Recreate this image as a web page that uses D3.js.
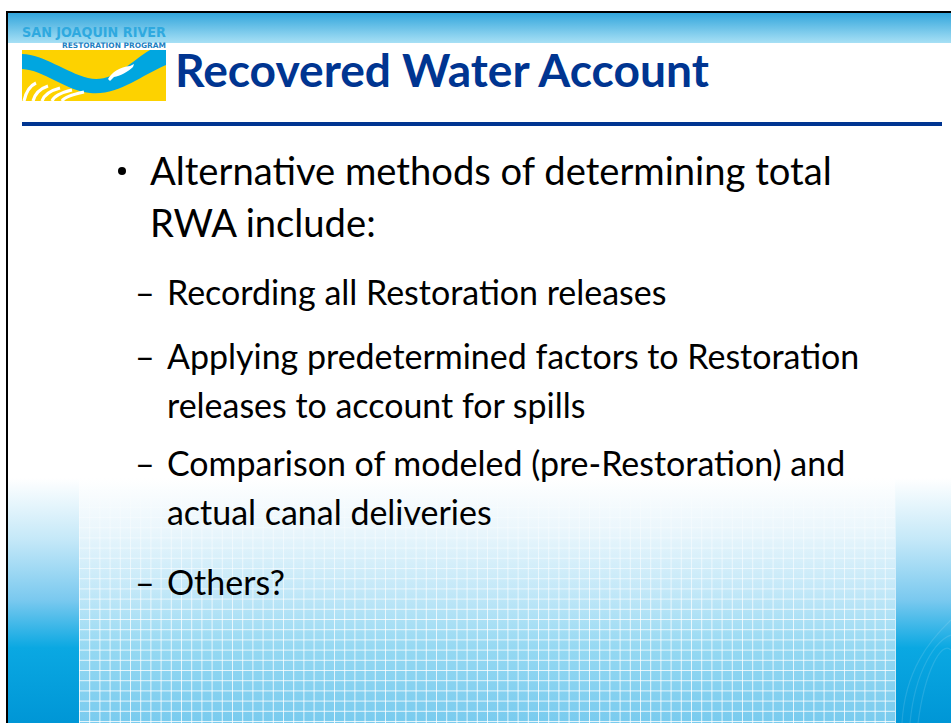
<!DOCTYPE html>
<html>
<head>
<meta charset="utf-8">
<script src="https://cdn.jsdelivr.net/npm/d3@7"></script>
<style>
  body { margin: 0; background: #fff; }
  svg { display: block; }
</style>
</head>
<body>
<div id="slide"></div>
<script>
// slide content
var titleText = "Recovered Water Account";
var logoLines = ["SAN JOAQUIN RIVER", "RESTORATION PROGRAM"];
var mainLines = ["Alternative methods of determining total", "RWA include:"];
var subItems = [
  ["Recording all Restoration releases"],
  ["Applying predetermined factors to Restoration", "releases to account for spills"],
  ["Comparison of modeled (pre-Restoration) and", "actual canal deliveries"],
  ["Others?"]
];

var W = 951, H = 723;
var font = "Lato, 'Open Sans', sans-serif";

var svg = d3.select("#slide")
  .append("svg")
    .attr("width", W)
    .attr("height", H);

var defs = svg.append("defs");

// vertical gradients in page coordinates: [y, colour, opacity]
function vgrad(id, stops) {
  var g = defs.append("linearGradient")
    .attr("id", id)
    .attr("gradientUnits", "userSpaceOnUse")
    .attr("x1", 0).attr("x2", 0).attr("y1", 0).attr("y2", H);
  g.selectAll("stop").data(stops).enter().append("stop")
    .attr("offset", function(d) { return d[0] / H; })
    .attr("stop-color", function(d) { return d[1]; })
    .attr("stop-opacity", function(d) { return d[2] == null ? 1 : d[2]; });
}
vgrad("mainBg", [[0, "#ffffff"], [478, "#ffffff"], [530, "#eaf6fc"], [590, "#c3e8f8"], [650, "#94d8f2"], [723, "#79cbee"]]);
vgrad("sideBg", [[0, "#ffffff"], [478, "#ffffff"], [540, "#c4e8f8"], [600, "#7ac9ef"], [648, "#0aa8e2"], [723, "#0096d6"]]);
vgrad("gridStroke", [[0, "#ffffff", 0], [478, "#ffffff", 0], [540, "#ffffff", 0.45], [620, "#ffffff", 0.75], [723, "#ffffff", 0.8]]);

var banner = defs.append("linearGradient")
  .attr("id", "banner").attr("x1", 0).attr("x2", 0).attr("y1", 0).attr("y2", 1);
banner.append("stop").attr("offset", 0).attr("stop-color", "#33a6dc");
banner.append("stop").attr("offset", 1).attr("stop-color", "#a7e0f5");

// slide frame
var frameLeft = 8, frameTop = 13;
var mainX0 = 79, mainX1 = 895;

svg.append("rect").attr("x", frameLeft).attr("y", frameTop).attr("width", W - frameLeft).attr("height", H - frameTop)
  .attr("fill", "url(#sideBg)");
svg.append("rect").attr("x", mainX0).attr("y", frameTop).attr("width", mainX1 - mainX0).attr("height", H - frameTop)
  .attr("fill", "url(#mainBg)");

// grid in the lower part of the slide
var step = 10.2;
var gx = d3.scaleLinear().domain([0, 1]).range([mainX0, mainX0 + step]);
var gridG = svg.append("g").attr("stroke", "url(#gridStroke)").attr("stroke-width", 1);
gridG.selectAll(".vl").data(d3.range(0, Math.floor((mainX1 - mainX0) / step) + 1)).enter()
  .append("line")
    .attr("x1", function(d) { return gx(d) + 0.5; })
    .attr("x2", function(d) { return gx(d) + 0.5; })
    .attr("y1", 470).attr("y2", H);
gridG.selectAll(".hl").data(d3.range(0, 25)).enter()
  .append("line")
    .attr("x1", mainX0).attr("x2", mainX1)
    .attr("y1", function(d) { return 721.5 - d * step; })
    .attr("y2", function(d) { return 721.5 - d * step; });

// faint swooshes on the right panel
svg.append("g").attr("fill", "none").attr("stroke", "#ffffff").attr("stroke-opacity", 0.12)
  .selectAll("path").data([0, 1, 2]).enter().append("path")
    .attr("d", function(d) { return "M" + (902 + d * 8) + ",723 C" + (905 + d * 10) + ",670 " + (930 + d * 6) + ",640 951," + (620 + d * 15); })
    .attr("stroke-width", 1.2);

// top banner
svg.append("rect").attr("x", frameLeft).attr("y", frameTop).attr("width", W - frameLeft).attr("height", 43 - frameTop)
  .attr("fill", "url(#banner)");

// frame border (top and left)
svg.append("rect").attr("x", 6).attr("y", 11).attr("width", W - 6).attr("height", 2).attr("fill", "#000");
svg.append("rect").attr("x", 6).attr("y", 11).attr("width", 2).attr("height", H - 11).attr("fill", "#000");

// logo
var logo = svg.append("g");
logo.append("text")
  .attr("x", 22).attr("y", 37)
  .attr("textLength", 144).attr("lengthAdjust", "spacingAndGlyphs")
  .style("font-family", "'Liberation Sans Narrow', 'DejaVu Sans Condensed', sans-serif")
  .style("font-weight", "bold").style("font-size", "14px")
  .style("fill", "#2fa9df")
  .text(logoLines[0]);
logo.append("text")
  .attr("x", 62).attr("y", 48)
  .attr("textLength", 104).attr("lengthAdjust", "spacingAndGlyphs")
  .style("font-family", "'Liberation Sans Narrow', 'DejaVu Sans Condensed', sans-serif")
  .style("font-weight", "bold").style("font-size", "7.5px")
  .style("fill", "#1d7fc2")
  .text(logoLines[1]);
logo.append("rect").attr("x", 22).attr("y", 50).attr("width", 144).attr("height", 51).attr("fill", "#fdd200");
logo.append("path")
  .attr("d", "M22,54 C45,55 65,72 88,78 C112,84 130,62 150,50 L166,50 L166,65 C140,76 118,96 90,93 C64,90 44,70 22,69 Z")
  .attr("fill", "#00a6e0");
// field furrows
logo.append("g").attr("stroke", "#ffffff").attr("stroke-width", 3.2).attr("fill", "none").attr("stroke-linecap", "butt")
  .selectAll("path").data([[24, 22, 83], [33, 34, 86], [42, 46, 88], [52, 58, 90], [62, 70, 92]]).enter()
  .append("path")
    .attr("d", function(d) { return "M" + d[0] + ",101 Q" + (d[0] + 3) + "," + (d[2] + 4) + " " + (d[1] + 14) + "," + d[2]; });
// fish
logo.append("path")
  .attr("d", "M108,79 C112,72 120,67 130,66 L134,64 L133,67 C128,72 120,76 114,77 L110,81 Z")
  .attr("fill", "#ffffff");

// title
var title = svg.append("text")
  .attr("x", 175).attr("y", 87)
  .style("font-family", font).style("font-weight", "bold").style("font-size", "40px")
  .style("fill", "#003591")
  .text(titleText);
var tl = title.node().getComputedTextLength();
title.style("font-size", (40 * 534 / tl) + "px");

// rule under the title
svg.append("rect").attr("x", 22).attr("y", 122).attr("width", 920).attr("height", 4).attr("fill", "#003591");

// fit a font size so a line reaches the target width
function fitSize(text, target, base) {
  var t = svg.append("text").style("font-family", font).style("font-size", base + "px").text(text);
  var w = t.node().getComputedTextLength();
  t.remove();
  return base * target / w;
}

// main bullet
var mainSize = fitSize(mainLines[0], 682, 40);
svg.append("circle").attr("cx", 122).attr("cy", 171).attr("r", 4).attr("fill", "#000");
svg.selectAll(".main").data(mainLines).enter().append("text")
  .attr("x", 150)
  .attr("y", function(d, i) { return 185 + i * 52; })
  .style("font-family", font).style("font-size", mainSize + "px").style("fill", "#000")
  .text(function(d) { return d; });

// sub items
var subTargets = [[459], [709, 430], [706, 324], [117]];
var sizes = [];
subItems.forEach(function(item, i) {
  item.forEach(function(line, j) { sizes.push(fitSize(line, subTargets[i][j], 32)); });
});
var subSize = d3.mean(sizes);
var subBase = [305, 369, 476, 595];
var lineGap = 49;

var subG = svg.selectAll(".sub").data(subItems).enter().append("g");
subG.append("text")
  .attr("x", 135)
  .attr("y", function(d, i) { return subBase[i]; })
  .style("font-family", font).style("font-size", subSize + "px").style("fill", "#000")
  .text("\u2013");
subG.selectAll(".line").data(function(d, i) { return d.map(function(l) { return {text: l, i: i}; }); }).enter()
  .append("text")
    .attr("x", 167)
    .attr("y", function(d, j) { return subBase[d.i] + j * lineGap; })
    .style("font-family", font).style("font-size", subSize + "px").style("fill", "#000")
    .text(function(d) { return d.text; });
</script>
</body>
</html>
